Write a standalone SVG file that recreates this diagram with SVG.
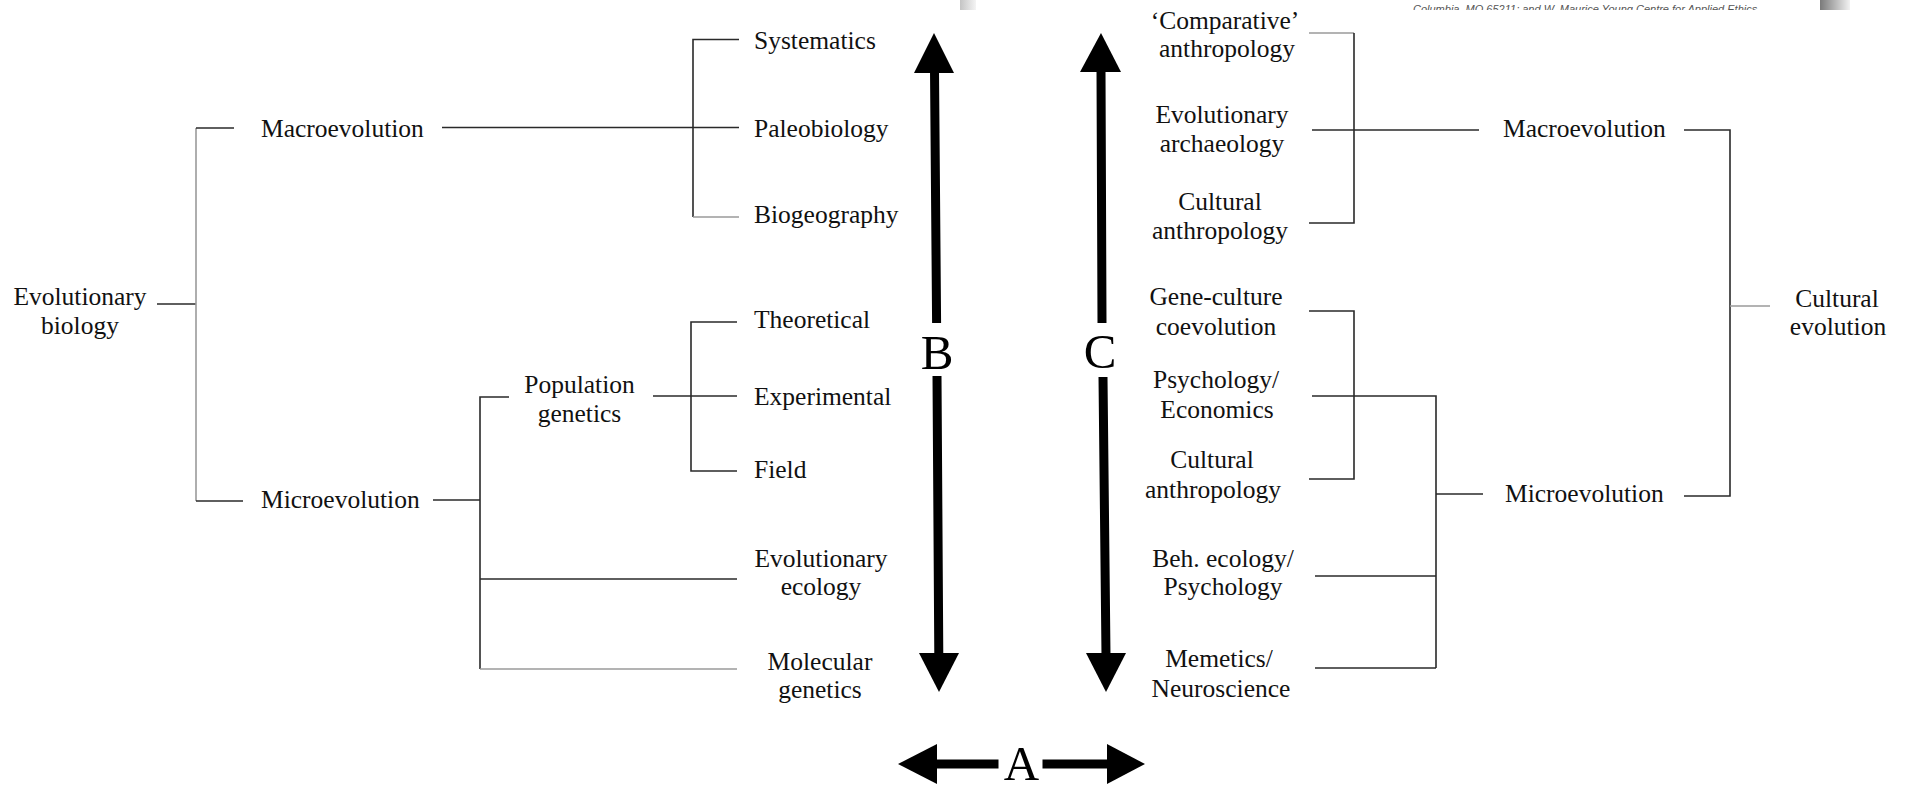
<svg xmlns="http://www.w3.org/2000/svg" width="1906" height="787" viewBox="0 0 1906 787">
  <style>
    .lbl { font-family: "Liberation Serif", "Times New Roman", serif; font-size: 25.5px; fill: #111; }
    .mid { text-anchor: middle; }
    .big { font-family: "Liberation Serif", "Times New Roman", serif; font-size: 49px; fill: #000; text-anchor: middle; }
    .ln { stroke: #2a2a2a; stroke-width: 1.6; fill: none; }
    .lt { stroke: #9a9a9a; stroke-width: 1.6; fill: none; }
    .shaft { stroke: #000; stroke-width: 9; fill: none; }
    .head { fill: #000; }
    .hdr { font-family: "Liberation Sans", Arial, sans-serif; font-size: 11px; font-style: italic; fill: #555; }
  </style>
  <defs>
    <linearGradient id="edgeL" x1="0" x2="1" y1="0" y2="0">
      <stop offset="0" stop-color="#c4c4c4"/>
      <stop offset="1" stop-color="#f4f4f4"/>
    </linearGradient>
    <linearGradient id="edgeR" x1="0" x2="1" y1="0" y2="0">
      <stop offset="0" stop-color="#7a7a7a"/>
      <stop offset="1" stop-color="#f2f2f2"/>
    </linearGradient>
    <clipPath id="strip">
      <rect x="960" y="0" width="900" height="10"/>
    </clipPath>
  </defs>
  <rect width="1906" height="787" fill="#fff"/>

  <!-- page header strip -->
  <g id="header" clip-path="url(#strip)">
    <rect x="960" y="0" width="16" height="10" fill="url(#edgeL)"/>
    <rect x="1820" y="0" width="30" height="10" fill="url(#edgeR)"/>
    <text class="hdr" x="1413" y="13">Columbia, MO 65211; and W. Maurice Young Centre for Applied Ethics</text>
  </g>

  <!-- tree connectors -->
  <g id="connectors">
    <!-- biology side -->
    <path class="ln" d="M157 304H196"/>
    <path class="lt" d="M196 128V501"/>
    <path class="ln" d="M196 128H234"/>
    <path class="ln" d="M196 501H243"/>
    <path class="ln" d="M442 127.5H739"/>
    <path class="ln" d="M739 39.5H693V217"/>
    <path class="lt" d="M693 217H739"/>
    <path class="ln" d="M433 500H480"/>
    <path class="ln" d="M509 397H480V669"/>
    <path class="ln" d="M480 579H737"/>
    <path class="lt" d="M480 669H737"/>
    <path class="ln" d="M653 396H737"/>
    <path class="ln" d="M737 322H691V471H737"/>
    <!-- culture side -->
    <path class="lt" d="M1309 33H1354"/>
    <path class="ln" d="M1354 33V223H1309"/>
    <path class="ln" d="M1312 130H1479"/>
    <path class="ln" d="M1684 130H1730V496H1684"/>
    <path class="lt" d="M1730 306H1770"/>
    <path class="ln" d="M1309 311H1354V479H1309"/>
    <path class="ln" d="M1312 396H1436V668"/>
    <path class="ln" d="M1436 494H1483"/>
    <path class="ln" d="M1315 576H1436"/>
    <path class="ln" d="M1315 668H1436"/>
  </g>

  <!-- axis arrows -->
  <g id="arrow-B">
    <path class="shaft" d="M934.5 70L936.6 323M937 376L938.8 655"/>
    <polygon class="head" points="934,33 954,73 914,73"/>
    <polygon class="head" points="919,653 959,653 939,692"/>
    <text class="big" x="937" y="369">B</text>
  </g>
  <g id="arrow-C">
    <path class="shaft" d="M1101 70L1102 323M1103 377L1106 655"/>
    <polygon class="head" points="1101,33 1121,72 1080,72"/>
    <polygon class="head" points="1086,653 1126,653 1106,692"/>
    <text class="big" x="1100" y="368">C</text>
  </g>
  <g id="arrow-A">
    <path class="shaft" d="M935 764H998.5M1042.5 764H1109"/>
    <polygon class="head" points="898,764 937,744 937,784"/>
    <polygon class="head" points="1145,764 1107,744 1107,784"/>
    <text class="big" x="1021.5" y="780">A</text>
  </g>

  <!-- biology nodes -->
  <g id="evolutionary-biology"><text class="lbl mid" x="80" y="305">Evolutionary</text><text class="lbl mid" x="80" y="334">biology</text></g>
  <g id="bio-macroevolution"><text class="lbl" x="261" y="137">Macroevolution</text></g>
  <g id="bio-microevolution"><text class="lbl" x="261" y="508">Microevolution</text></g>
  <g id="population-genetics"><text class="lbl mid" x="579.5" y="393">Population</text><text class="lbl mid" x="579.5" y="422">genetics</text></g>
  <g id="systematics"><text class="lbl" x="754" y="49">Systematics</text></g>
  <g id="paleobiology"><text class="lbl" x="754" y="137">Paleobiology</text></g>
  <g id="biogeography"><text class="lbl" x="754" y="223">Biogeography</text></g>
  <g id="theoretical"><text class="lbl" x="754" y="328">Theoretical</text></g>
  <g id="experimental"><text class="lbl" x="754" y="405">Experimental</text></g>
  <g id="field"><text class="lbl" x="754" y="478">Field</text></g>
  <g id="evolutionary-ecology"><text class="lbl mid" x="821" y="567">Evolutionary</text><text class="lbl mid" x="821" y="595">ecology</text></g>
  <g id="molecular-genetics"><text class="lbl mid" x="820" y="670">Molecular</text><text class="lbl mid" x="820" y="698">genetics</text></g>

  <!-- culture nodes -->
  <g id="comparative-anthropology"><text class="lbl mid" x="1225" y="29">‘Comparative’</text><text class="lbl mid" x="1227" y="57">anthropology</text></g>
  <g id="evolutionary-archaeology"><text class="lbl mid" x="1222" y="123">Evolutionary</text><text class="lbl mid" x="1222" y="152">archaeology</text></g>
  <g id="cultural-anthropology-1"><text class="lbl mid" x="1220" y="210">Cultural</text><text class="lbl mid" x="1220" y="239">anthropology</text></g>
  <g id="gene-culture"><text class="lbl mid" x="1216" y="305">Gene-culture</text><text class="lbl mid" x="1216" y="335">coevolution</text></g>
  <g id="psychology-economics"><text class="lbl mid" x="1216" y="388">Psychology/</text><text class="lbl mid" x="1217" y="418">Economics</text></g>
  <g id="cultural-anthropology-2"><text class="lbl mid" x="1212" y="468">Cultural</text><text class="lbl mid" x="1213" y="498">anthropology</text></g>
  <g id="beh-ecology"><text class="lbl mid" x="1223" y="567">Beh. ecology/</text><text class="lbl mid" x="1223" y="595">Psychology</text></g>
  <g id="memetics"><text class="lbl mid" x="1219" y="667">Memetics/</text><text class="lbl mid" x="1221" y="697">Neuroscience</text></g>
  <g id="cul-macroevolution"><text class="lbl" x="1503" y="137">Macroevolution</text></g>
  <g id="cul-microevolution"><text class="lbl" x="1505" y="502">Microevolution</text></g>
  <g id="cultural-evolution"><text class="lbl mid" x="1837" y="307">Cultural</text><text class="lbl mid" x="1838" y="335">evolution</text></g>
</svg>
